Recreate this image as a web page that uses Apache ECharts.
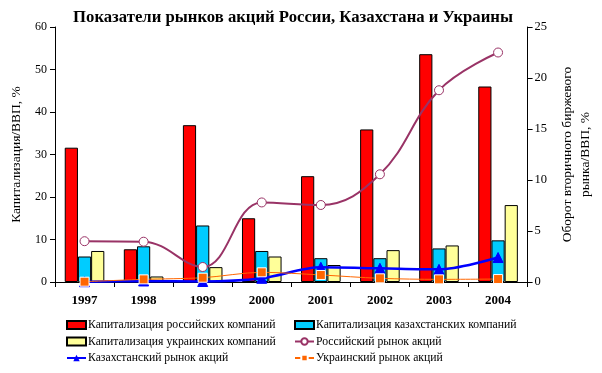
<!DOCTYPE html>
<html><head><meta charset="utf-8">
<script src="https://cdn.jsdelivr.net/npm/echarts@6/dist/echarts.min.js"></script>
<style>html,body{margin:0;padding:0;background:#fff}#c{width:602px;height:373px}</style>
</head><body><div id="c"></div>
<script>
const years = ['1997','1998','1999','2000','2001','2002','2003','2004'];
const capRu = [31.6, 7.7, 36.9, 15.0, 24.9, 35.9, 53.6, 46.0];
const capKz = [6.0, 8.4, 13.3, 7.3, 5.6, 5.6, 7.9, 9.8];
const capUa = [7.3, 1.3, 3.5, 6.0, 4.0, 7.5, 8.6, 18.1];
const mktRu = [4.0, 3.95, 1.47, 7.8, 7.55, 10.56, 18.8, 22.5];
const mktKz = [0.03, 0.1, 0.05, 0.36, 1.44, 1.34, 1.24, 2.4];
const mktUa = [0.03, 0.26, 0.42, 0.95, 0.69, 0.36, 0.26, 0.29];
const leftTicks = [0, 10, 20, 30, 40, 50, 60];
const rightTicks = [0, 5, 10, 15, 20, 25];

const F = '"Liberation Serif","Times New Roman",serif';
const names = ['Капитализация российских компаний','Капитализация казахстанских компаний','Капитализация украинских компаний','Российский рынок акций','Казахстанский рынок акций','Украинский рынок акций'];
const barStyle = c => ({color: c, borderColor: '#000', borderWidth: 1});
const legendBase = {orient: 'vertical', top: 319, padding: 0, itemGap: 4.5, itemWidth: 19, itemHeight: 8,
  textStyle: {fontFamily: F, fontSize: 11.7, color: '#000', padding: [0,0,0,-3]}};
const chart = echarts.init(document.getElementById('c'));
chart.setOption({
  animation: false,
  textStyle: {fontFamily: F},
  title: {text: 'Показатели рынков акций России, Казахстана и Украины', left: 293, textAlign: 'center', top: 9, padding: 0,
    textStyle: {fontFamily: F, fontWeight: 'bold', fontSize: 16.7, color: '#000'}},
  grid: {left: 55, right: 72, top: 27, bottom: 91},
  legend: [
    Object.assign({}, legendBase, {left: 66, data: [
      {name: names[0], icon: 'rect'}, {name: names[2], icon: 'rect'}, {name: names[4]}]}),
    Object.assign({}, legendBase, {left: 294, data: [
      {name: names[1], icon: 'rect'}, {name: names[3]}, {name: names[5]}]})
  ],
  xAxis: {type: 'category', data: years,
    axisLine: {lineStyle: {color: '#000'}},
    axisTick: {show: true, inside: false, length: 5, lineStyle: {color: '#000'}},
    axisLabel: {fontFamily: F, fontWeight: 'bold', fontSize: 13, color: '#000', margin: 12}},
  yAxis: [
    {type: 'value', min: 0, max: 60, interval: 10, position: 'left',
     name: 'Капитализация/ВВП, %', nameLocation: 'middle', nameGap: 27, nameRotate: 90,
     nameTextStyle: {fontFamily: F, fontSize: 13.5, color: '#000', lineHeight: 15},
     axisLine: {show: true, lineStyle: {color: '#000'}},
     axisTick: {show: true, length: 5, lineStyle: {color: '#000'}},
     splitLine: {show: false},
     axisLabel: {fontFamily: F, fontSize: 12, color: '#000', margin: 8,
       formatter: v => leftTicks.includes(v) ? String(v) : ''}},
    {type: 'value', min: 0, max: 25, interval: 5, position: 'right',
     name: 'Оборот вторичного биржевого\nрынка/ВВП, %', nameLocation: 'middle', nameGap: 23, nameRotate: 90,
     nameTextStyle: {fontFamily: F, fontSize: 13.5, color: '#000', lineHeight: 18},
     axisLine: {show: true, lineStyle: {color: '#000'}},
     axisTick: {show: true, length: 5, lineStyle: {color: '#000'}},
     splitLine: {show: false},
     axisLabel: {fontFamily: F, fontSize: 12.5, color: '#000', margin: 7,
       formatter: v => rightTicks.includes(v) ? String(v) : ''}}
  ],
  series: [
    {name: names[0], type: 'bar', data: capRu, barGap: '0%', barCategoryGap: '33%', itemStyle: barStyle('#FF0000')},
    {name: names[1], type: 'bar', data: capKz, itemStyle: barStyle('#00CCFF')},
    {name: names[2], type: 'bar', data: capUa, itemStyle: barStyle('#FFFF99')},
    {name: names[3], type: 'line', yAxisIndex: 1, data: mktRu, smooth: 0.4,
     symbol: 'circle', symbolSize: 9, lineStyle: {color: '#993366', width: 2},
     itemStyle: {color: '#fff', borderColor: '#993366', borderWidth: 1}},
    {name: names[4], type: 'line', yAxisIndex: 1, data: mktKz, smooth: 0.3,
     symbol: 'triangle', symbolSize: 10, lineStyle: {color: '#0000FF', width: 2.5},
     itemStyle: {color: '#0000FF', borderColor: '#0000FF'}},
    {name: names[5], type: 'line', yAxisIndex: 1, data: mktUa, smooth: 0.3,
     symbol: 'rect', symbolSize: 9, lineStyle: {color: '#FF6600', width: 1},
     itemStyle: {color: '#FF6600', borderColor: '#fff', borderWidth: 1}}
  ]
});
</script></body></html>
